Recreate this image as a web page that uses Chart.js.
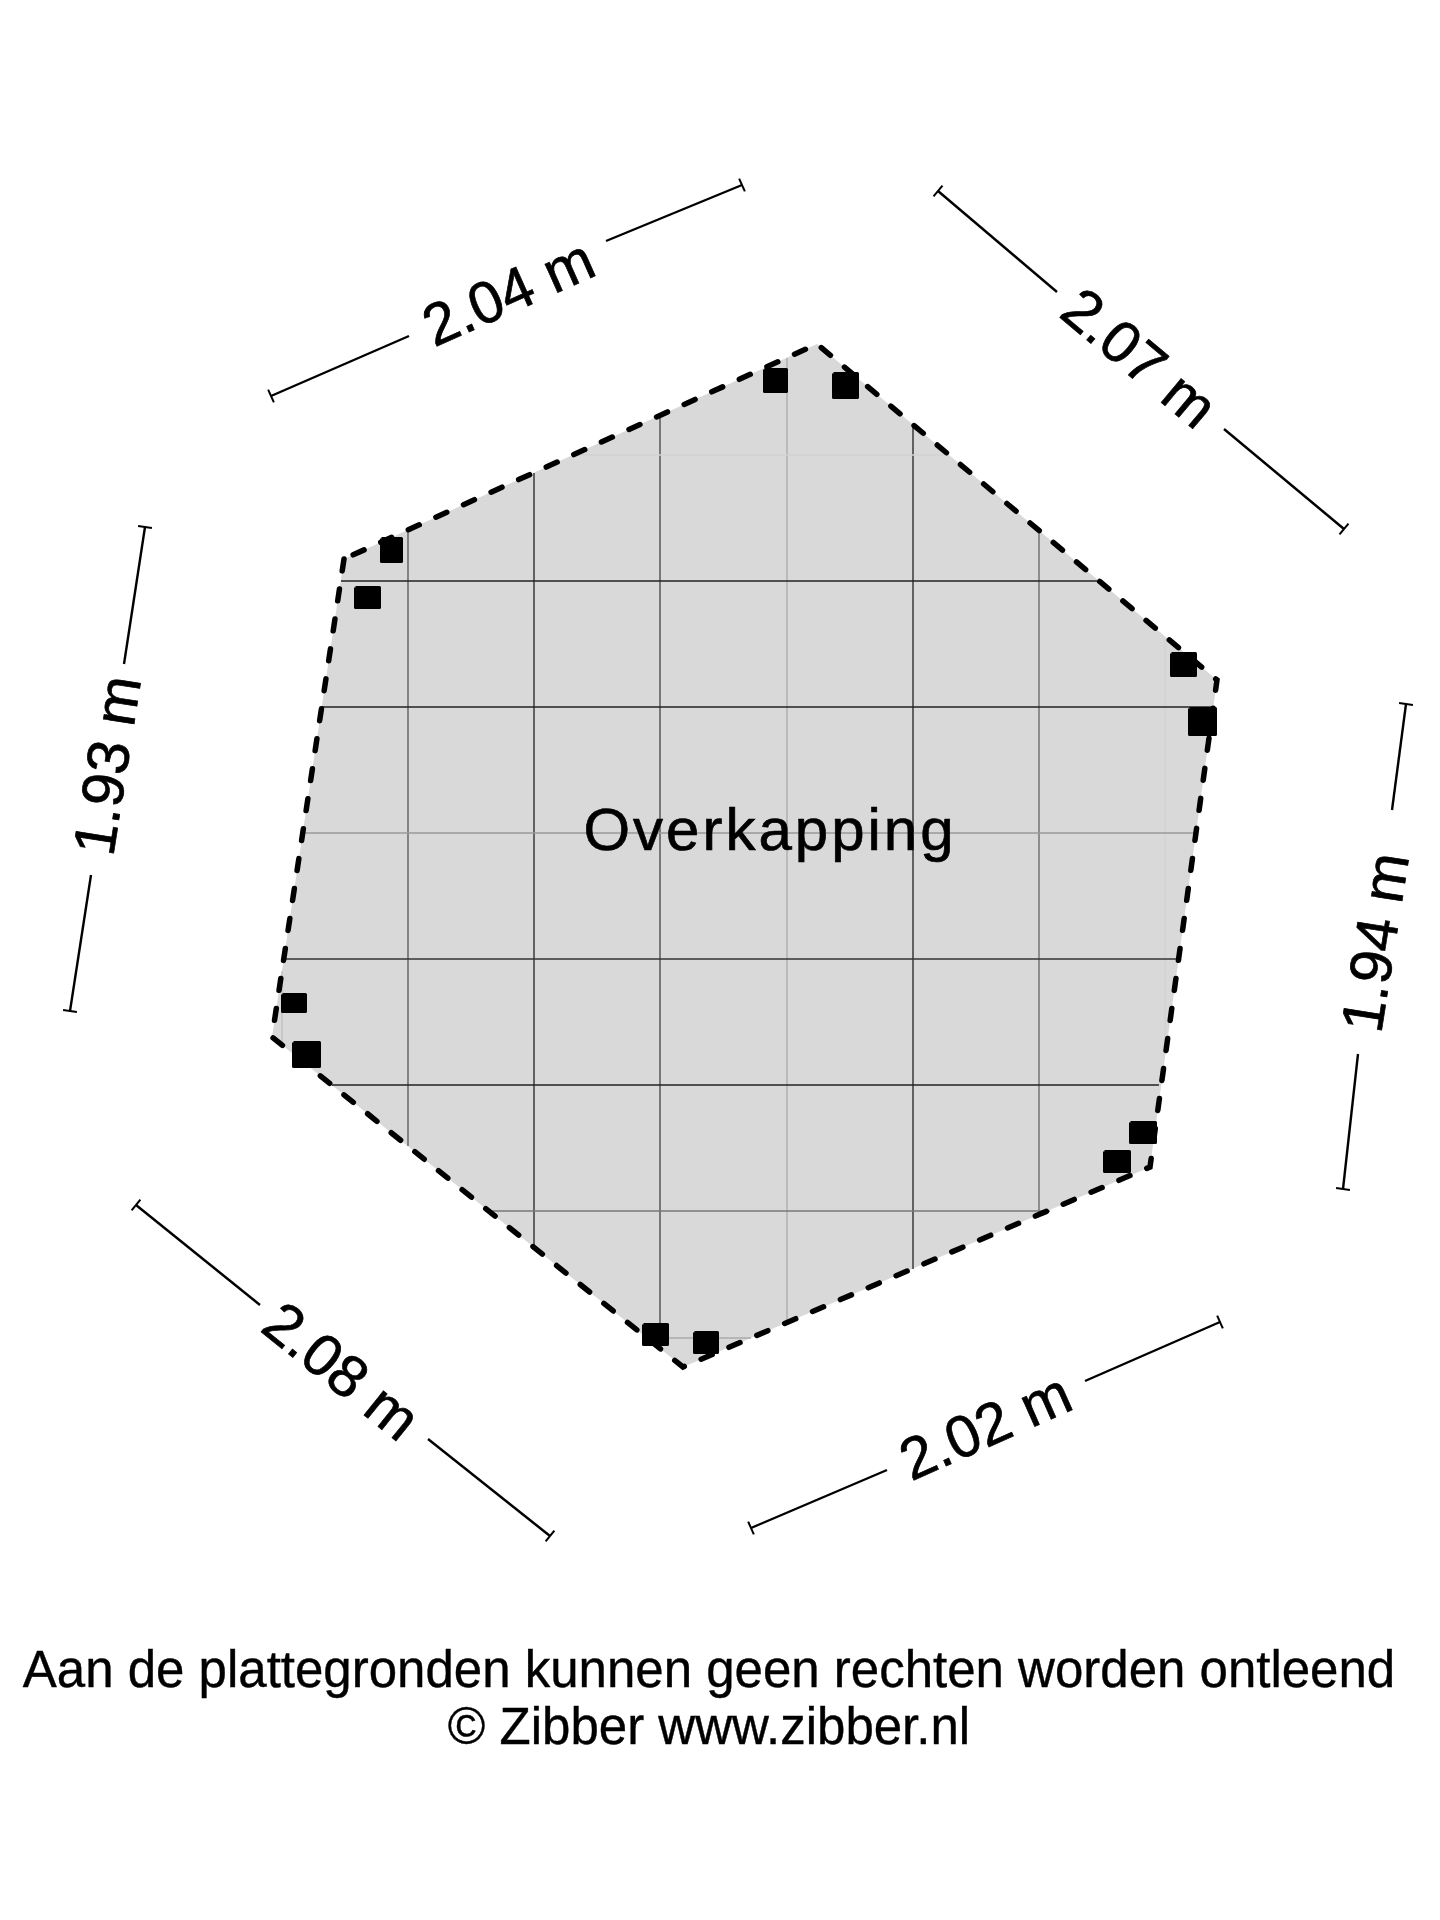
<!DOCTYPE html>
<html>
<head>
<meta charset="utf-8">
<script src="https://cdn.jsdelivr.net/npm/chart.js@4"></script>
<style>
  html, body { margin: 0; background: #fff; }
  canvas { display: block; }
</style>
</head>
<body>
<canvas id="plan" width="1440" height="1920"></canvas>
<script>
// roof outline, walked from the top left corner so the dashes fall right
const outlineX = [344, 272, 683, 1150, 1217, 817, 344];
const outlineY = [559, 1037, 1367, 1167, 680, 344, 559];

// tile grid, cut off at the outline
const columnX = [282, 408, 534, 660, 787, 913, 1039, 1165];
const columnTop = [971, 530, 473, 416, 358, 426, 532, 638];
const columnBottom = [1045, 1146, 1247, 1349, 1323, 1269, 1216, 1046];
const rowY = [455, 581, 707, 833, 959, 1085, 1211, 1338];
const rowLeft = [573, 341, 322, 303, 284, 332, 489, 647];
const rowRight = [945, 1097, 1214, 1196, 1178, 1159, 1050, 751];

// posts
const postLeft = [381.5, 355.5, 1171.5, 1189.5, 282.5, 293.5, 643.5, 694.5, 764.5, 833.5, 1130.5, 1104.5];
const postRight = [401.5, 379.5, 1195.5, 1215.5, 305.5, 319.5, 667.5, 717.5, 786.5, 857.5, 1155.5, 1129.5];
const postTop = [538.5, 587.5, 653.5, 708.5, 994.5, 1042.5, 1324.5, 1332.5, 369.5, 373.5, 1122.5, 1151.5];
const postBottom = [561.5, 607.5, 675.5, 734.5, 1011.5, 1066.5, 1344.5, 1352.5, 391.5, 397.5, 1142.5, 1171.5];

// dimension lines: outer ends and the gap left for the label
const dimStartX = [271, 938, 1406, 1220, 550, 145];
const dimStartY = [396, 191, 704, 1322, 1536, 527];
const dimEndX = [742, 1344, 1343, 751, 136, 70];
const dimEndY = [185, 529, 1189, 1528, 1205, 1011];
const gapStartX = [409, 1057, 1392, 1085, 428, 124];
const gapStartY = [336, 292, 810, 1381, 1439, 664];
const gapEndX = [606, 1224, 1358, 887, 260, 91];
const gapEndY = [241, 429, 1054, 1470, 1305, 875];
const dimLabels = ["2.04 m", "2.07 m", "1.94 m", "2.02 m", "2.08 m", "1.93 m"];
const dimLabelX = [510, 1137, 1379, 987, 339, 111];
const dimLabelY = [296, 361, 943, 1430, 1374, 766];
const dimLabelAngle = [-24, 40, -81, -24, 39, -81];

const roomName = "Overkapping";
const roomX = 770;
const roomY = 833;
const footerLines = [
  "Aan de plattegronden kunnen geen rechten worden ontleend",
  "\u00a9 Zibber www.zibber.nl",
];
const footerX = 709;
const footerY = [1673, 1730];

const columnColor = ["#bdbdbd", "#555", "#222", "#444", "#aaa", "#222", "#666", "#d2d2d2"];
const rowColor = ["#d2d2d2", "#222", "#222", "#999", "#333", "#222", "#777", "#aaa"];

const zip = (xs, ys) => xs.map((x, i) => ({ x, y: ys[i] }));
const line = (data, color, width, extra) => ({
  data,
  borderColor: color,
  borderWidth: width,
  showLine: true,
  pointRadius: 0,
  ...extra,
});

// draw order: the last dataset in the array goes underneath, so build and flip
const layers = [];
layers.push(line(zip(outlineX, outlineY), "rgba(0,0,0,0)", 0, {
  fill: "shape",
  backgroundColor: "#d9d9d9",
}));
columnX.forEach((x, i) => {
  layers.push(line([{ x, y: columnTop[i] }, { x, y: columnBottom[i] }], columnColor[i], 1.3));
});
rowY.forEach((y, i) => {
  layers.push(line([{ x: rowLeft[i], y }, { x: rowRight[i], y }], rowColor[i], 1.3));
});
layers.push(line(zip(outlineX, outlineY), "#000", 5.5, {
  borderDash: [12, 18.3],
  borderCapStyle: "round",
}));
postLeft.forEach((l, i) => {
  const r = postRight[i];
  const t = postTop[i];
  const b = postBottom[i];
  layers.push(line([{ x: l, y: t }, { x: r, y: t }, { x: r, y: b }, { x: l, y: b }, { x: l, y: t }], "#000", 3, {
    fill: "shape",
    backgroundColor: "#000",
    borderJoinStyle: "round",
  }));
});
dimLabels.forEach((_, i) => {
  layers.push(line([{ x: dimStartX[i], y: dimStartY[i] }, { x: gapStartX[i], y: gapStartY[i] }], "#000", 2.4));
  layers.push(line([{ x: gapEndX[i], y: gapEndY[i] }, { x: dimEndX[i], y: dimEndY[i] }], "#000", 2.4));
  // end ticks, square to the line
  const dx = dimEndX[i] - dimStartX[i];
  const dy = dimEndY[i] - dimStartY[i];
  const len = Math.hypot(dx, dy);
  const nx = (-dy / len) * 7;
  const ny = (dx / len) * 7;
  [[dimStartX[i], dimStartY[i]], [dimEndX[i], dimEndY[i]]].forEach(([x, y]) => {
    layers.push(line([{ x: x - nx, y: y - ny }, { x: x + nx, y: y + ny }], "#000", 2));
  });
});
const datasets = layers.reverse();

const planText = {
  id: "planText",
  afterDatasetsDraw(chart) {
    const { ctx, scales } = chart;
    const px = (v) => scales.x.getPixelForValue(v);
    const py = (v) => scales.y.getPixelForValue(v);
    const put = (text, x, y) => {
      ctx.fillText(text, x, y);
      ctx.strokeText(text, x, y);
    };
    ctx.save();
    ctx.fillStyle = "#000";
    ctx.strokeStyle = "#000";
    ctx.lineWidth = 0.7;
    ctx.textAlign = "center";
    ctx.textBaseline = "middle";
    ctx.font = '59px "Liberation Sans"';
    dimLabels.forEach((label, i) => {
      ctx.save();
      ctx.translate(px(dimLabelX[i]), py(dimLabelY[i]));
      ctx.rotate((dimLabelAngle[i] * Math.PI) / 180);
      put(label, 0, 0);
      ctx.restore();
    });
    ctx.font = '60px "Liberation Sans"';
    ctx.letterSpacing = "3px";
    put(roomName, px(roomX), py(roomY));
    ctx.letterSpacing = "0px";
    ctx.font = '51px "Liberation Sans"';
    ctx.lineWidth = 0.4;
    footerLines.forEach((text, i) => {
      put(text, px(footerX), py(footerY[i]));
    });
    ctx.restore();
  },
};

new Chart(document.getElementById("plan"), {
  type: "scatter",
  data: { datasets },
  plugins: [planText],
  options: {
    responsive: false,
    animation: false,
    layout: { padding: 0 },
    plugins: { legend: { display: false }, tooltip: { enabled: false } },
    scales: {
      x: { type: "linear", min: 0, max: 1440, display: false },
      y: { type: "linear", min: 0, max: 1920, reverse: true, display: false },
    },
  },
});
</script>
</body>
</html>
